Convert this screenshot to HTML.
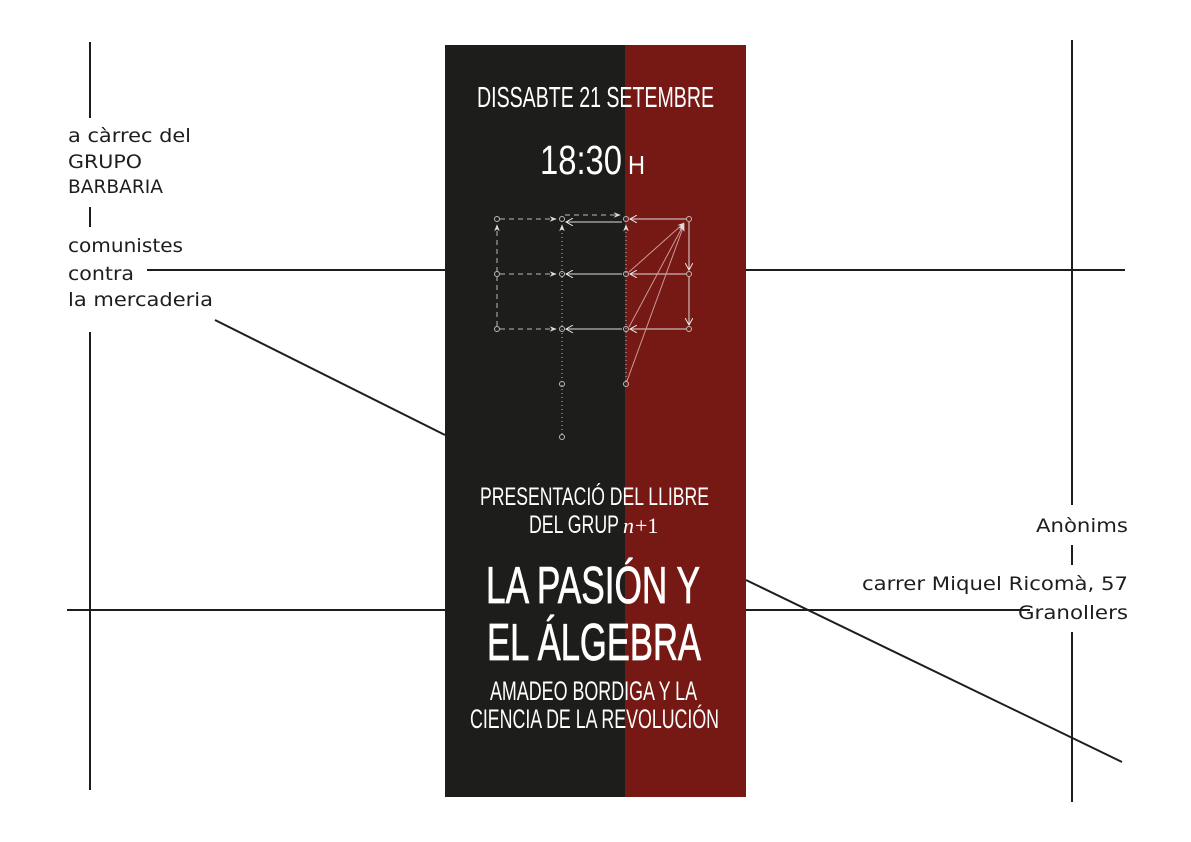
<!DOCTYPE html>
<html><head><meta charset="utf-8"><style>
html,body{margin:0;padding:0;background:#fff;}
svg{display:block;}
.l{font-family:"DejaVu Sans","Liberation Sans",sans-serif;font-size:19px;fill:#1d1d1b;}
.c{font-family:"Liberation Sans Narrow","Liberation Sans",sans-serif;fill:#fff;}
</style></head><body>
<svg width="1191" height="842" viewBox="0 0 1191 842" xmlns="http://www.w3.org/2000/svg">
<defs>
<marker id="a" viewBox="0 0 10 10" refX="9" refY="5" markerWidth="7" markerHeight="7" orient="auto"><path d="M0,1 L10,5 L0,9 L3,5z" fill="#ddd"/></marker>
<marker id="o" viewBox="0 0 10 10" refX="9" refY="5" markerWidth="8" markerHeight="8" orient="auto"><path d="M0,0 L9,5 L0,10" fill="none" stroke="#eee" stroke-width="1.2"/></marker>
</defs>
<g stroke="#1d1d1b" stroke-width="2" fill="none">
<line x1="90" y1="42" x2="90" y2="118"/>
<line x1="90" y1="207" x2="90" y2="227"/>
<line x1="90" y1="332" x2="90" y2="790"/>
<line x1="147" y1="270" x2="445" y2="270"/>
<line x1="746" y1="270" x2="1125" y2="270"/>
<line x1="215" y1="320" x2="445" y2="435"/>
<line x1="1072" y1="40" x2="1072" y2="505"/>
<line x1="1072" y1="545" x2="1072" y2="565"/>
<line x1="1072" y1="632" x2="1072" y2="802"/>
<line x1="67" y1="610" x2="445" y2="610"/>
<line x1="746" y1="610" x2="1030" y2="610"/>
<line x1="746" y1="580" x2="1122" y2="762"/>
</g>
<rect x="445" y="45" width="180" height="752" fill="#1d1d1b"/>
<rect x="625" y="45" width="121" height="752" fill="#761914"/>
<g class="l" lengthAdjust="spacingAndGlyphs">
<text x="68" y="142" textLength="123" lengthAdjust="spacingAndGlyphs">a càrrec del</text>
<text x="68" y="168" textLength="74" lengthAdjust="spacingAndGlyphs">GRUPO</text>
<text x="68" y="193" textLength="95" lengthAdjust="spacingAndGlyphs">BARBARIA</text>
<text x="68" y="252" textLength="115" lengthAdjust="spacingAndGlyphs">comunistes</text>
<text x="68" y="280" textLength="66" lengthAdjust="spacingAndGlyphs">contra</text>
<text x="68" y="306" textLength="145" lengthAdjust="spacingAndGlyphs">la mercaderia</text>
<text x="1036" y="532" textLength="92" lengthAdjust="spacingAndGlyphs">Anònims</text>
<text x="862" y="590" textLength="266" lengthAdjust="spacingAndGlyphs">carrer Miquel Ricomà, 57</text>
<text x="1018" y="619" textLength="110" lengthAdjust="spacingAndGlyphs">Granollers</text>
</g>
<g class="c">
<text x="477" y="107" font-size="29" textLength="237" lengthAdjust="spacingAndGlyphs">DISSABTE 21 SETEMBRE</text>
<text x="540" y="174" font-size="41" textLength="82" lengthAdjust="spacingAndGlyphs">18:30</text>
<text x="628" y="174" font-size="26" textLength="17" lengthAdjust="spacingAndGlyphs">H</text>
<text x="480" y="505" font-size="25" textLength="229" lengthAdjust="spacingAndGlyphs">PRESENTACIÓ DEL LLIBRE</text>
<text x="529" y="533" font-size="25" textLength="90" lengthAdjust="spacingAndGlyphs">DEL GRUP</text>
<text x="623" y="533" font-size="22" font-family="Liberation Serif" font-style="italic">n</text><text x="635" y="533" font-size="22" font-family="Liberation Serif">+1</text>
<text x="486" y="603" font-size="52" textLength="214" lengthAdjust="spacingAndGlyphs" stroke="#fff" stroke-width="0.8">LA PASIÓN Y</text>
<text x="487" y="660" font-size="52" textLength="214" lengthAdjust="spacingAndGlyphs" stroke="#fff" stroke-width="0.8">EL ÁLGEBRA</text>
<text x="490" y="700" font-size="27" textLength="207" lengthAdjust="spacingAndGlyphs">AMADEO BORDIGA Y LA</text>
<text x="470" y="728" font-size="27" textLength="249" lengthAdjust="spacingAndGlyphs">CIENCIA DE LA REVOLUCIÓN</text>
</g>
<g fill="none" stroke-width="1">
<g stroke="#bbb" stroke-dasharray="5,4">
<line x1="500" y1="219" x2="556" y2="219" marker-end="url(#a)"/>
<line x1="500" y1="274" x2="556" y2="274" marker-end="url(#a)"/>
<line x1="500" y1="329" x2="556" y2="329" marker-end="url(#a)"/>
<line x1="497" y1="326" x2="497" y2="225" marker-end="url(#a)"/>
<line x1="565" y1="215" x2="620" y2="215" marker-end="url(#a)"/>
</g>
<g stroke="#bbb" stroke-dasharray="1,3">
<line x1="562" y1="434" x2="562" y2="225" marker-end="url(#a)"/>
<line x1="626" y1="381" x2="626" y2="225" marker-end="url(#a)"/>
</g>
<g stroke="#ddd">
<line x1="622" y1="222" x2="566" y2="222" marker-end="url(#o)"/>
<line x1="622" y1="274" x2="566" y2="274" marker-end="url(#o)"/>
<line x1="622" y1="329" x2="566" y2="329" marker-end="url(#o)"/>
<line x1="686" y1="219" x2="630" y2="219" marker-end="url(#o)"/>
<line x1="686" y1="274" x2="630" y2="274" marker-end="url(#o)"/>
<line x1="686" y1="329" x2="630" y2="329" marker-end="url(#o)"/>
<line x1="689" y1="222" x2="689" y2="270" marker-end="url(#o)"/>
<line x1="689" y1="277" x2="689" y2="325" marker-end="url(#o)"/>
<line x1="629" y1="272" x2="684" y2="223" marker-end="url(#a)" stroke="#c99"/>
<line x1="629" y1="327" x2="684" y2="224" marker-end="url(#a)" stroke="#c99"/>
<line x1="627" y1="381" x2="684" y2="225" marker-end="url(#a)" stroke="#c99"/>
</g>
<g stroke="#bbb">
<circle cx="497" cy="219" r="2.5"/><circle cx="562" cy="219" r="2.5"/><circle cx="626" cy="219" r="2.5"/><circle cx="689" cy="219" r="2.5"/>
<circle cx="497" cy="274" r="2.5"/><circle cx="562" cy="274" r="2.5"/><circle cx="626" cy="274" r="2.5"/><circle cx="689" cy="274" r="2.5"/>
<circle cx="497" cy="329" r="2.5"/><circle cx="562" cy="329" r="2.5"/><circle cx="626" cy="329" r="2.5"/><circle cx="689" cy="329" r="2.5"/>
<circle cx="562" cy="384" r="2.5"/><circle cx="626" cy="384" r="2.5"/><circle cx="562" cy="437" r="2.5"/>
</g>
</g>
</svg>
</body></html>
